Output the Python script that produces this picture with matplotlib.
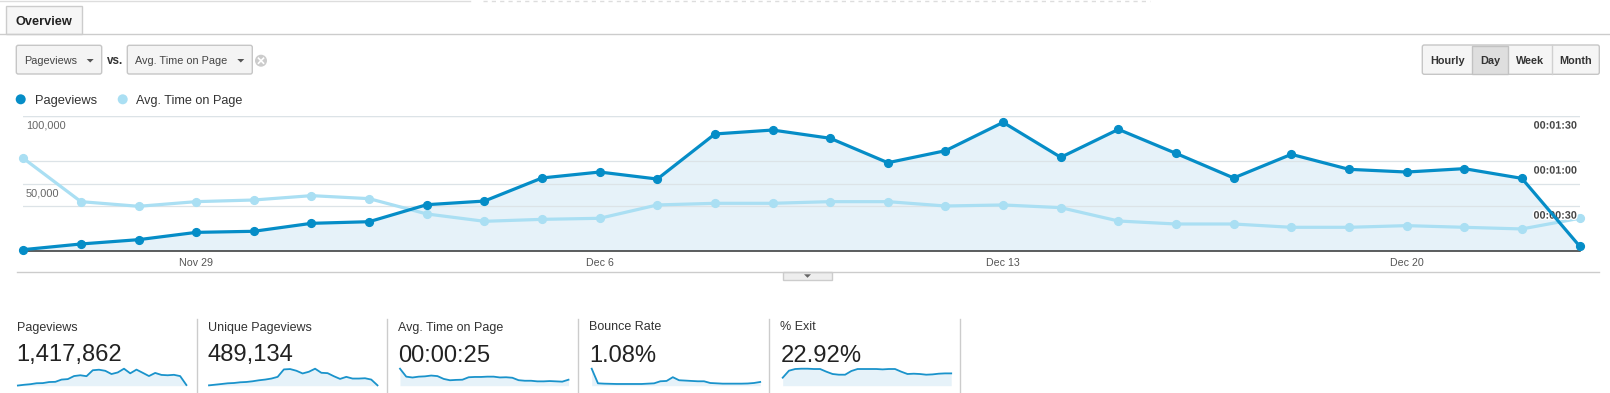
import numpy as np
import matplotlib
matplotlib.use('Agg')
import matplotlib.pyplot as plt
from matplotlib.patches import Rectangle, FancyBboxPatch, Circle, Polygon
import matplotlib.patheffects as pe

plt.rcParams['font.family'] = ['Liberation Sans', 'DejaVu Sans']

W, H = 1610, 393

# données (26 nov -> 23 dec)
pageviews = [1000, 5200, 8400, 13800, 14600, 20500, 21700, 34300, 37000, 54100,
             58500, 53300, 86700, 89600, 83500, 65400, 74300, 95300, 69400, 90100,
             72300, 54100, 71600, 60500, 58500, 61000, 53800, 3700]
avg_time = [61.8, 32.9, 29.8, 32.9, 34.0, 36.9, 34.9, 24.7, 19.8, 21.1,
            21.8, 30.7, 31.8, 31.8, 32.9, 32.9, 30.0, 30.7, 28.9, 20.0,
            18.0, 18.0, 15.8, 15.8, 16.9, 15.8, 14.7, 21.8]  # secondes
unique_pageviews = [800, 2300, 3800, 5400, 6100, 7700, 8400, 10000, 12200, 13800,
                    16100, 19900, 36700, 37500, 33700, 27600, 31400, 38300, 29100, 28300,
                    21400, 15300, 19900, 16100, 16100, 16800, 13800, 800]
bounce_rate = [5.15, 0.72, 0.62, 0.57, 0.52, 0.52, 0.52, 0.52, 0.52, 0.62,
               0.72, 1.34, 1.44, 2.58, 1.65, 1.55, 1.44, 1.34, 1.34, 0.82,
               0.72, 0.62, 0.62, 0.62, 0.62, 0.67, 0.82, 1.13]
pct_exit = [12.8, 24.0, 26.7, 27.2, 27.2, 26.7, 26.7, 22.4, 18.7, 17.6,
            17.6, 23.5, 26.7, 26.7, 26.7, 26.7, 26.1, 26.7, 26.7, 22.4,
            18.7, 19.2, 18.7, 17.6, 18.1, 19.2, 19.7, 19.7]

tick_pos = [3, 10, 17, 24]
tick_labels = ['Nov 29', 'Dec 6', 'Dec 13', 'Dec 20']
left_ticks = [50000, 100000]
left_labels = ['50,000', '100,000']
right_ticks = [30, 60, 90]
right_labels = ['00:00:30', '00:01:00', '00:01:30']

card_titles = ['Pageviews', 'Unique Pageviews', 'Avg. Time on Page', 'Bounce Rate', '% Exit']
card_values = ['1,417,862', '489,134', '00:00:25', '1.08%', '22.92%']
card_series = [pageviews, unique_pageviews, avg_time, bounce_rate, pct_exit]

DARK = '#058dc7'
LIGHT = '#aadff3'
FILL = '#e6f2f9'


def fig_rect(x0, y0, x1, y1):
    # pixels (origine en haut a gauche) -> coordonnées figure
    return [x0 / W, 1 - y1 / H, (x1 - x0) / W, (y1 - y0) / H]


fig = plt.figure(figsize=(W / 100, H / 100), dpi=100)

# fond / interface en pixels
bg = fig.add_axes([0, 0, 1, 1])
bg.set_xlim(0, W)
bg.set_ylim(H, 0)
bg.axis('off')

bg.plot([0, 470], [1, 1], color='#dddddd', lw=1)
bg.plot([483, 1150], [1, 1], color='#dddddd', lw=1, ls=(0, (3, 3)))
bg.plot([0, W], [34.3, 34.3], color='#cccccc', lw=1)
bg.add_patch(Rectangle((6, 6), 76, 28.3, fc='#f6f6f6', ec='#cccccc', lw=1))
bg.text(15, 25.3, 'Overview', fontsize=9.2, fontweight='bold', color='#222222', va='baseline')

# menus déroulants
for x0, x1, label in [(16.3, 101.7, 'Pageviews'), (127.3, 252.3, 'Avg. Time on Page')]:
    bg.add_patch(FancyBboxPatch((x0, 45.3), x1 - x0, 28.7, boxstyle='round,pad=0,rounding_size=2',
                                fc='#f4f4f4', ec='#c6c6c6', lw=1))
    bg.text(x0 + 8, 64.3, label, fontsize=7.8, color='#444444', va='baseline')
    ax_ = x1 - 11.5
    bg.add_patch(Polygon([(ax_ - 3.5, 59), (ax_ + 3.5, 59), (ax_, 62.5)], closed=True, fc='#555555', ec='none'))
bg.text(106.7, 64.3, 'vs.', fontsize=8.4, fontweight='bold', color='#333333', va='baseline')
bg.add_patch(Circle((261, 60.7), 6, fc='#cccccc', ec='none'))
bg.plot([258.5, 263.5], [58.2, 63.2], color='white', lw=1.2)
bg.plot([258.5, 263.5], [63.2, 58.2], color='white', lw=1.2)

# légende
bg.add_patch(Circle((20.7, 99.3), 5, fc=DARK, ec='none'))
bg.text(35, 104.3, 'Pageviews', fontsize=9.3, color='#333333', va='baseline')
bg.add_patch(Circle((122.7, 99.3), 5, fc=LIGHT, ec='none'))
bg.text(136, 104.3, 'Avg. Time on Page', fontsize=9.1, color='#333333', va='baseline')

# boutons période
bg.add_patch(FancyBboxPatch((1422.3, 45), 177, 29.3, boxstyle='round,pad=0,rounding_size=2',
                            fc='#f5f5f5', ec='#c6c6c6', lw=1))
bg.add_patch(Rectangle((1472.3, 45.5), 35.4, 28.3, fc='#dedede', ec='#c2c2c2', lw=1))
segments = [(1422.3, 1472.3, 'Hourly'), (1472.3, 1507.7, 'Day'), (1507.7, 1551.7, 'Week'), (1551.7, 1599.3, 'Month')]
for x0, x1, label in segments:
    bg.text((x0 + x1) / 2, 64.3, label, fontsize=7.8, fontweight='bold', color='#333333',
            ha='center', va='baseline')
bg.plot([1551.7, 1551.7], [45, 74.3], color='#d0d0d0', lw=1)

# bas du graphique
bg.plot([17, 1599], [272.3, 272.3], color='#cccccc', lw=1)
bg.add_patch(Rectangle((783, 272.3), 49, 8, fc='#eeeeee', ec='#cccccc', lw=1))
bg.add_patch(Polygon([(804, 274.3), (811, 274.3), (807.5, 277.8)], closed=True, fc='#666666', ec='none'))

# graphique principal
x = np.arange(len(pageviews))
ax = fig.add_axes(fig_rect(23.3, 116, 1579.5, 251))
ax_t = ax.twinx()
ax_top = ax.twinx()
for a in (ax, ax_t, ax_top):
    a.patch.set_visible(False)
    for s in a.spines.values():
        s.set_visible(False)
    a.set_xlim(0, len(x) - 1)
ax.set_ylim(0, 100000)
ax_top.set_ylim(0, 100000)
ax_t.set_ylim(0, 90)
ax_t.set_yticks([])
ax_top.set_yticks([])
ax.set_yticks([])

ax.fill_between(x, pageviews, 0, color=FILL, lw=0, zorder=1)
for v in left_ticks:
    ax.axhline(v, color='#dce3e7', lw=0.9, zorder=2)
for v in right_ticks:
    ax_t.axhline(v, color='#dce3e7', lw=0.9, zorder=1)

ax.spines['bottom'].set_visible(True)
ax.spines['bottom'].set_color('#333333')
ax.spines['bottom'].set_linewidth(1.1)
ax.set_xticks(tick_pos, tick_labels)
ax.tick_params(axis='x', length=0, pad=5, labelsize=7.7, labelcolor='#555555')
ax_t.tick_params(axis='x', length=0, labelbottom=False)
ax_top.tick_params(axis='x', length=0, labelbottom=False)

for v, lbl in zip(left_ticks, left_labels):
    ax.annotate(lbl, xy=(0, v), xycoords=('axes fraction', 'data'), xytext=(2, -9.1),
                textcoords='offset points', fontsize=7.9, color='#666666', ha='left', va='baseline')
for v, lbl in zip(right_ticks, right_labels):
    ax_t.annotate(lbl, xy=(1, v), xycoords=('axes fraction', 'data'), xytext=(-2, -9.1),
                  textcoords='offset points', fontsize=7.8, fontweight='bold', color='#444444',
                  ha='right', va='baseline', zorder=5,
                  path_effects=[pe.withStroke(linewidth=2, foreground='white')])

ax_t.plot(x, avg_time, color=LIGHT, lw=2.3, marker='o', ms=5.6, clip_on=False, zorder=3)
ax_top.plot(x, pageviews, color=DARK, lw=2.3, marker='o', ms=5.6, clip_on=False, zorder=4)

# cartes de résumé
seps = [196.7, 387.3, 578.3, 769.3, 960]
for sx in seps:
    bg.plot([sx, sx], [319.3, 393], color='#cccccc', lw=1)
text_x = [16.5, 207.7, 398.3, 589.3, 780.3]
spark_x = [17.9, 209, 400, 591.7, 782.7]
for tx, sx, title, val, series in zip(text_x, spark_x, card_titles, card_values, card_series):
    bg.text(tx, 330.5, title, fontsize=9, color='#333333', va='baseline')
    bg.text(tx, 361.5, val, fontsize=17.1, color='#222222', va='baseline')
    sp = fig.add_axes(fig_rect(sx, 368.7, sx + 168.5, 385.7))
    sp.axis('off')
    sp.set_xlim(0, len(series) - 1)
    sp.set_ylim(0, max(series))
    sp.fill_between(np.arange(len(series)), series, 0, color=FILL, lw=0)
    sp.plot(np.arange(len(series)), series, color='#1a93cb', lw=1.3, clip_on=False)

fig.savefig('out.png', dpi=100)
